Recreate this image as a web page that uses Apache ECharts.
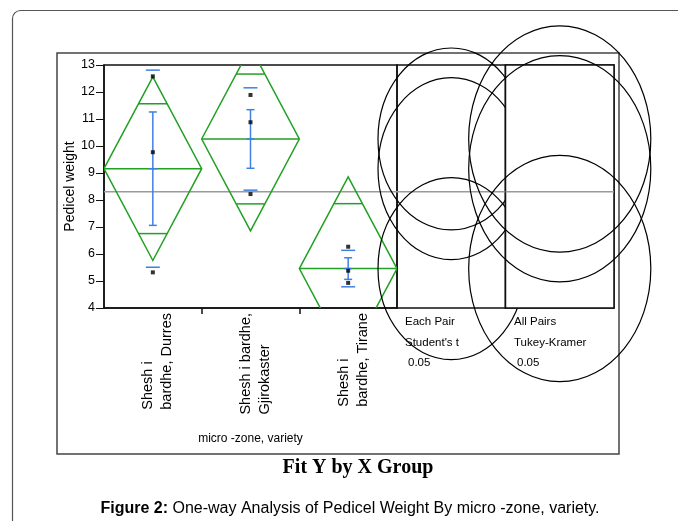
<!DOCTYPE html>
<html>
<head>
<meta charset="utf-8">
<script src="https://cdn.jsdelivr.net/npm/echarts@6/dist/echarts.min.js"></script>
<style>
  html, body { margin: 0; padding: 0; background: #fff; }
  #chart { width: 678px; height: 521px; }
</style>
</head>
<body>
<div id="chart"></div>
<script>
// ---- data ----
const categories = ['Shesh i\nbardhe, Durres', 'Shesh i bardhe,\nGjirokaster', 'Shesh i\nbardhe, Tirane'];
const groupMeans = [9.16, 10.26, 5.46];
const ciHalfWidths = [3.40, 3.40, 3.40];      // 95% CI of each mean (diamonds)
const stdErrors = [2.10, 1.085, 0.40];        // mean error bars
const stdDevs = [3.65, 1.895, 0.675];         // std dev lines
const observations = [
  [12.58, 9.77, 5.32],
  [11.89, 10.88, 8.22],
  [6.27, 5.38, 4.93]
];
const grandMean = 8.31;
const studentRadius = 3.37;   // Each Pair, Student's t 0.05
const tukeyRadius = 4.19;     // All Pairs, Tukey-Kramer 0.05
const yMin = 4, yMax = 13, yStep = 1;
const yAxisTitle = 'Pedicel weight';
const xAxisTitle = 'micro -zone, variety';

// ---- styling ----
const GREEN = '#22a024';
const BLUE = '#3f80e4';
const GRAY = '#9a9a9a';
const INK = '#111';
const FONT = '"Liberation Sans", Arial, sans-serif';
const CIRCLE_ASPECT = 0.805;   // horizontal/vertical pixel ratio of the comparison circles

const chart = echarts.init(document.getElementById('chart'), null, { renderer: 'canvas' });

const diamondData = groupMeans.map((m, i) => [i, m, ciHalfWidths[i]]);
const barData = groupMeans.map((m, i) => [i, m, stdErrors[i], stdDevs[i]]);
const pointData = [];
observations.forEach((list, i) => list.forEach(v => pointData.push([i, v])));
const circleRows = r => groupMeans.map(m => [0, m, r]);

function renderDiamond(params, api) {
  const idx = api.value(0), mean = api.value(1), half = api.value(2);
  const c = api.coord([idx, mean]);
  const top = api.coord([idx, mean + half]);
  const bot = api.coord([idx, mean - half]);
  const w = api.size([1, 0])[0] / 2;
  const k = 1 - Math.SQRT1_2;
  const up = api.coord([idx, mean + half * Math.SQRT1_2]);
  const dn = api.coord([idx, mean - half * Math.SQRT1_2]);
  const st = { stroke: GREEN, lineWidth: 1.5, fill: 'none' };
  return {
    type: 'group',
    children: [
      { type: 'polygon', shape: { points: [[c[0] - w, c[1]], top, [c[0] + w, c[1]], bot] }, style: st },
      { type: 'line', shape: { x1: c[0] - w, y1: c[1], x2: c[0] + w, y2: c[1] }, style: st },
      { type: 'line', shape: { x1: up[0] - w * k, y1: up[1], x2: up[0] + w * k, y2: up[1] }, style: st },
      { type: 'line', shape: { x1: dn[0] - w * k, y1: dn[1], x2: dn[0] + w * k, y2: dn[1] }, style: st }
    ]
  };
}

function renderBars(params, api) {
  const idx = api.value(0), mean = api.value(1), se = api.value(2), sd = api.value(3);
  const m = api.coord([idx, mean]);
  const seHi = api.coord([idx, mean + se]), seLo = api.coord([idx, mean - se]);
  const sdHi = api.coord([idx, mean + sd]), sdLo = api.coord([idx, mean - sd]);
  const x = m[0], cap = 4, wide = 7;
  const st = { stroke: BLUE, lineWidth: 1.5 };
  const h = (p, half) => ({ type: 'line', shape: { x1: x - half, y1: p[1], x2: x + half, y2: p[1] }, style: st });
  return {
    type: 'group',
    children: [
      { type: 'line', shape: { x1: x, y1: seHi[1], x2: x, y2: seLo[1] }, style: st },
      h(seHi, cap), h(seLo, cap), h(m, cap),
      h(sdHi, wide), h(sdLo, wide)
    ]
  };
}

function renderCircle(params, api) {
  const cs = params.coordSys;
  const cx = cs.x + cs.width / 2;
  const cy = api.coord([0, api.value(1)])[1];
  const ry = api.size([0, api.value(2)])[1];
  return {
    type: 'ellipse',
    shape: { cx: cx, cy: cy, rx: ry * CIRCLE_ASPECT, ry: ry },
    style: { stroke: '#000', lineWidth: 1.2, fill: 'none' }
  };
}

function renderMeanLine(params, api) {
  const cs = params.coordSys;
  const y = api.coord([0, api.value(0)])[1];
  return { type: 'line', shape: { x1: cs.x, y1: y, x2: cs.x + cs.width, y2: y },
           style: { stroke: GRAY, lineWidth: 1.5 } };
}

function renderCover(params, api) {
  const cs = params.coordSys;
  return { type: 'rect', shape: { x: cs.x, y: cs.y, width: cs.width, height: cs.height },
           style: { fill: '#fff', stroke: INK, lineWidth: 1.5 } };
}

const gridBase = { top: 65, height: 243, show: true, borderColor: INK, borderWidth: 1.5, backgroundColor: 'transparent' };
const hiddenValueX = i => ({ type: 'value', gridIndex: i, min: 0, max: 1, show: false });
const hiddenValueY = i => ({ type: 'value', gridIndex: i, min: yMin, max: yMax, show: false });

const option = {
  animation: false,
  backgroundColor: '#fff',
  textStyle: { fontFamily: FONT, color: '#000' },
  grid: [
    Object.assign({ left: 104, width: 293 }, gridBase),
    Object.assign({ left: 397, width: 108.5 }, gridBase),
    Object.assign({ left: 505.5, width: 108.5 }, gridBase)
  ],
  xAxis: [
    {
      type: 'category', gridIndex: 0, data: categories, position: 'bottom',
      axisLine: { show: true, lineStyle: { color: INK, width: 1.5 } },
      axisTick: { show: false },
      axisLabel: {
        interval: 0, rotate: 90, margin: 5, color: '#000', fontSize: 14.5,
        padding: [10, 0, 0, 0],
        formatter: v => v.split('\n').map(s => '{a|' + s + '}').join('\n'),
        rich: { a: { align: 'left', fontSize: 14.5, lineHeight: 19, fontFamily: FONT, color: '#000' } }
      },
      name: xAxisTitle, nameLocation: 'middle', nameGap: 125,
      nameTextStyle: { fontSize: 12, color: '#000' }
    },
    {
      // category separators below the plot
      type: 'value', gridIndex: 0, min: 0, max: categories.length, position: 'bottom',
      axisLine: { show: false }, axisLabel: { show: false }, splitLine: { show: false },
      axisTick: { show: true, customValues: categories.slice(1).map((_, i) => i + 1), length: 6,
                  lineStyle: { color: INK, width: 1.5 } }
    },
    hiddenValueX(1),
    hiddenValueX(2)
  ],
  yAxis: [
    {
      type: 'value', gridIndex: 0, min: yMin, max: yMax, interval: yStep,
      axisLine: { show: true, lineStyle: { color: INK, width: 1.5 } },
      axisTick: { show: true, length: 8, lineStyle: { color: INK, width: 1 } },
      axisLabel: { color: '#000', fontSize: 12.5, margin: 9 },
      splitLine: { show: false },
      name: yAxisTitle, nameLocation: 'middle', nameGap: 22,
      nameTextStyle: { fontSize: 14, color: '#000' }
    },
    hiddenValueY(1),
    hiddenValueY(2)
  ],
  series: [
    { type: 'custom', xAxisIndex: 0, yAxisIndex: 0, z: 2, renderItem: renderMeanLine,
      data: [[grandMean]], encode: { y: 0 }, silent: true },
    { type: 'custom', xAxisIndex: 0, yAxisIndex: 0, z: 3, clip: true, renderItem: renderDiamond,
      data: diamondData, encode: { x: 0, y: 1 }, silent: true },
    { type: 'custom', xAxisIndex: 0, yAxisIndex: 0, z: 4, renderItem: renderBars,
      data: barData, encode: { x: 0, y: 1 }, silent: true },
    { type: 'scatter', xAxisIndex: 0, yAxisIndex: 0, z: 5, symbol: 'rect', symbolSize: 4,
      itemStyle: { color: '#000' }, data: pointData, silent: true },

    // Each Pair, Student's t
    { type: 'custom', xAxisIndex: 2, yAxisIndex: 1, z: 2, renderItem: renderMeanLine,
      data: [[grandMean]], encode: { y: 0 }, silent: true },
    { type: 'custom', xAxisIndex: 2, yAxisIndex: 1, z: 6, clip: false, renderItem: renderCircle,
      data: circleRows(studentRadius), encode: { y: 1 }, silent: true },

    // All Pairs, Tukey-Kramer
    { type: 'custom', xAxisIndex: 3, yAxisIndex: 2, z: 7, renderItem: renderCover,
      data: [[grandMean]], encode: { y: 0 }, silent: true },
    { type: 'custom', xAxisIndex: 3, yAxisIndex: 2, z: 8, renderItem: renderMeanLine,
      data: [[grandMean]], encode: { y: 0 }, silent: true },
    { type: 'custom', xAxisIndex: 3, yAxisIndex: 2, z: 9, clip: false, renderItem: renderCircle,
      data: circleRows(tukeyRadius), encode: { y: 1 }, silent: true }
  ],
  graphic: [
    { type: 'rect', z: -10, silent: true, shape: { x: 12.5, y: 10.5, width: 720, height: 600, r: 8 },
      style: { fill: 'none', stroke: '#555', lineWidth: 1.2 } },
    { type: 'rect', z: -10, silent: true, shape: { x: 57, y: 53, width: 562, height: 401 },
      style: { fill: 'none', stroke: '#444', lineWidth: 1.5 } },
    { type: 'text', z: 20, silent: true, x: 405, y: 322,
      style: { text: 'Each Pair', fontSize: 11.5, fontFamily: FONT, fill: '#000', align: 'left', verticalAlign: 'middle' } },
    { type: 'text', z: 20, silent: true, x: 405, y: 343,
      style: { text: "Student's t", fontSize: 11.5, fontFamily: FONT, fill: '#000', align: 'left', verticalAlign: 'middle' } },
    { type: 'text', z: 20, silent: true, x: 408, y: 363,
      style: { text: '0.05', fontSize: 11.5, fontFamily: FONT, fill: '#000', align: 'left', verticalAlign: 'middle' } },
    { type: 'text', z: 20, silent: true, x: 514, y: 322,
      style: { text: 'All Pairs', fontSize: 11.5, fontFamily: FONT, fill: '#000', align: 'left', verticalAlign: 'middle' } },
    { type: 'text', z: 20, silent: true, x: 514, y: 343,
      style: { text: 'Tukey-Kramer', fontSize: 11.5, fontFamily: FONT, fill: '#000', align: 'left', verticalAlign: 'middle' } },
    { type: 'text', z: 20, silent: true, x: 517, y: 363,
      style: { text: '0.05', fontSize: 11.5, fontFamily: FONT, fill: '#000', align: 'left', verticalAlign: 'middle' } },
    { type: 'text', z: 20, silent: true, x: 358, y: 468,
      style: { text: 'Fit Y by X Group', fontSize: 20, fontWeight: 'bold', fontFamily: '"Liberation Serif", "Times New Roman", serif',
               fill: '#000', align: 'center', verticalAlign: 'middle' } },
    { type: 'text', z: 20, silent: true, x: 350, y: 509,
      style: { text: '{b|Figure 2:} One-way Analysis of Pedicel Weight By micro -zone, variety.',
               fontSize: 16, fontFamily: FONT, fill: '#000', align: 'center', verticalAlign: 'middle',
               rich: { b: { fontSize: 16, fontWeight: 'bold', fontFamily: FONT, fill: '#000' } } } }
  ]
};

chart.setOption(option);
</script>
</body>
</html>
